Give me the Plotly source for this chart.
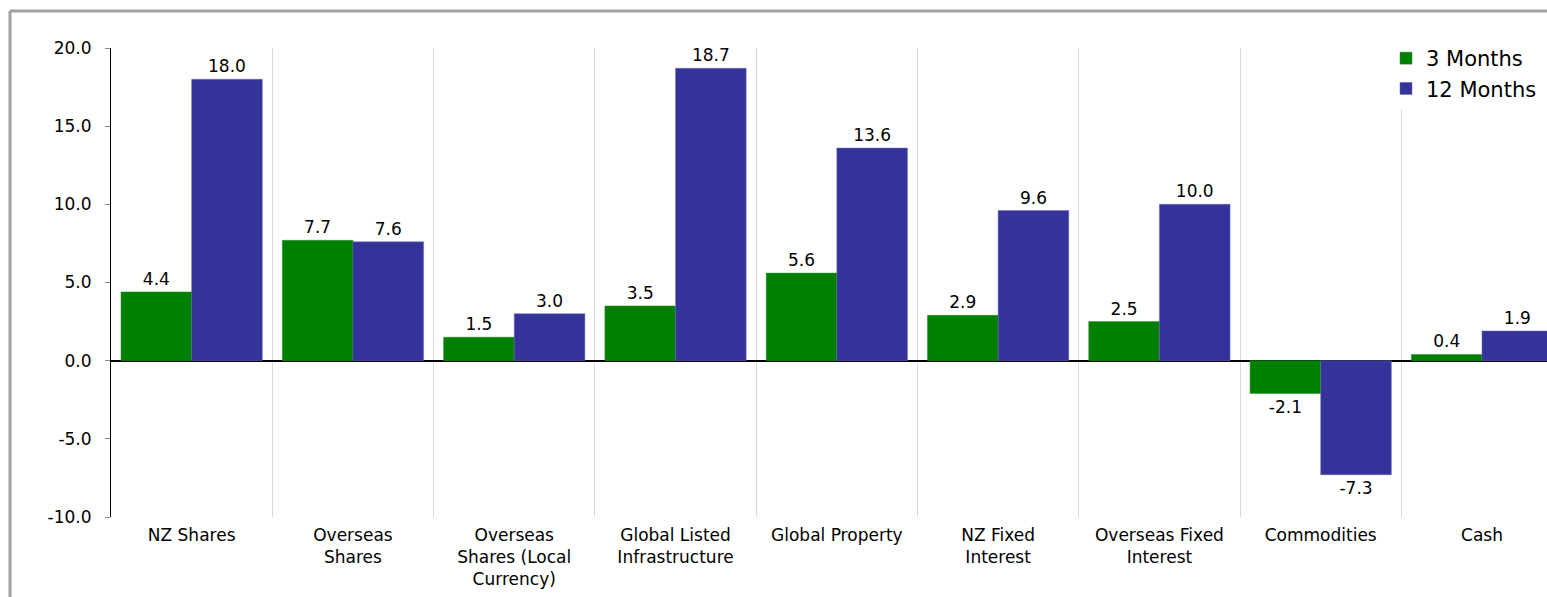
import plotly.graph_objects as go

categories = ["NZ Shares", "Overseas<br>Shares", "Overseas<br>Shares (Local<br>Currency)",
              "Global Listed<br>Infrastructure", "Global Property", "NZ Fixed<br>Interest",
              "Overseas Fixed<br>Interest", "Commodities", "Cash"]
three_months = [4.4, 7.7, 1.5, 3.5, 5.6, 2.9, 2.5, -2.1, 0.4]
twelve_months = [18.0, 7.6, 3.0, 18.7, 13.6, 9.6, 10.0, -7.3, 1.9]
y_tick_values = [-10, -5, 0, 5, 10, 15, 20]
y_tick_labels = ["-10.0", "-5.0", "0.0", "5.0", "10.0", "15.0", "20.0"]

FONT = "DejaVu Sans, Arial, sans-serif"

fig = go.Figure()
fig.add_trace(go.Bar(x=categories, y=three_months, name="3 Months",
                     marker=dict(color="#008000", line=dict(color="#2e8b2e", width=0.5)),
                     text=[f"{v:.1f}" for v in three_months], textposition="outside",
                     textfont=dict(size=17, color="black", family=FONT), cliponaxis=False))
fig.add_trace(go.Bar(x=categories, y=twelve_months, name="12 Months",
                     marker=dict(color="#333399", line=dict(color="#6a6ab0", width=0.5)),
                     text=[f"{v:.1f}" for v in twelve_months], textposition="outside",
                     textfont=dict(size=17, color="black", family=FONT), cliponaxis=False))

W, H = 1547, 597
L, T, B = 111, 48, 80
pw = W - L
ph = H - T - B

def px_x(p):
    return (p - L) / pw

def px_y(p):
    return (H - B - p) / ph

fig.update_layout(
    width=W, height=H,
    margin=dict(l=L, r=0, t=T, b=B),
    paper_bgcolor="white", plot_bgcolor="white",
    barmode="group", bargap=0.124, bargroupgap=0,
    font=dict(family=FONT, size=17, color="black"),
    showlegend=True,
    legend=dict(x=px_x(1386), y=px_y(38), xanchor="left", yanchor="top",
                bgcolor="white", font=dict(size=21, family=FONT), tracegroupgap=4,
                itemwidth=30),
    uniformtext=dict(minsize=17, mode="show"),
)
fig.update_xaxes(range=[-0.5, 8.403], tickson="boundaries", showgrid=True,
                 gridcolor="#d9d9d9", gridwidth=1, ticks="", showline=False,
                 ticklabelstandoff=6,
                 tickfont=dict(size=17, family=FONT, color="black"), tickangle=0)
fig.update_yaxes(range=[-10, 20], tickvals=y_tick_values, ticktext=y_tick_labels,
                 showgrid=False,
                 showline=True, linecolor="black", linewidth=1,
                 ticks="outside", ticklen=5, tickcolor="#888888",
                 ticklabelstandoff=10,
                 zeroline=True, zerolinecolor="black", zerolinewidth=1.5,
                 tickfont=dict(size=17, family=FONT, color="black"))

# outer frame (left and top edges)
fig.add_shape(type="line", xref="paper", yref="paper",
              x0=px_x(10), x1=px_x(W + 5), y0=px_y(11), y1=px_y(11),
              line=dict(color="#a0a0a0", width=3))
fig.add_shape(type="line", xref="paper", yref="paper",
              x0=px_x(10), x1=px_x(10), y0=px_y(11), y1=px_y(H + 5),
              line=dict(color="#a0a0a0", width=3))

fig.write_html("out.html")
